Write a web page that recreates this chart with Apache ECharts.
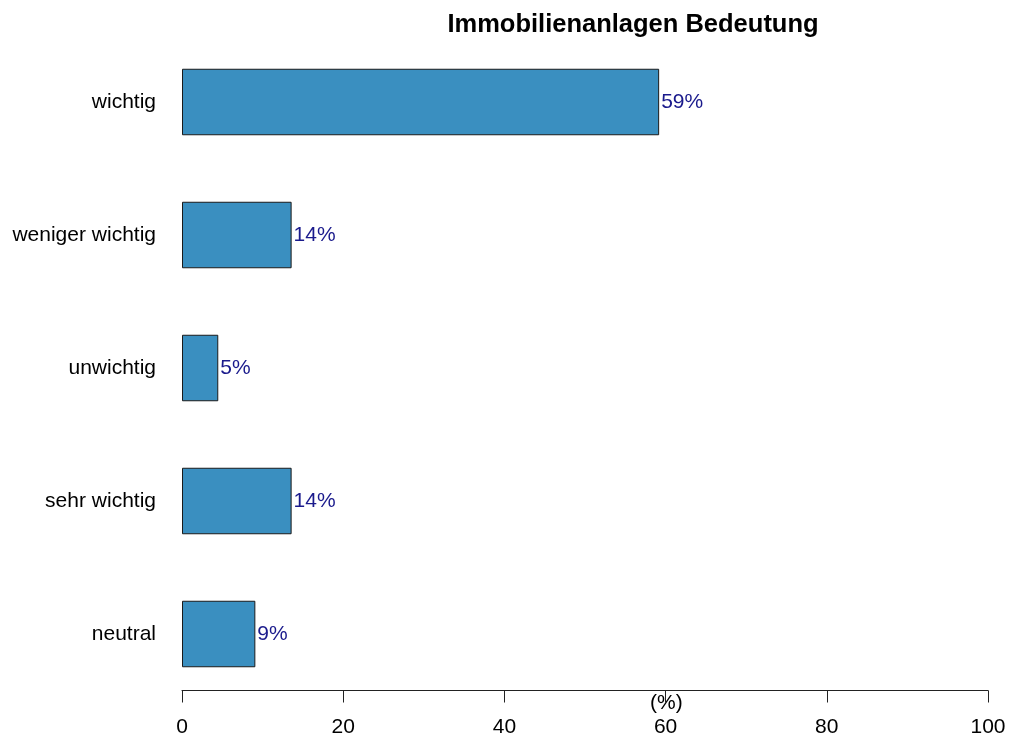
<!DOCTYPE html>
<html>
<head>
<meta charset="utf-8">
<script src="https://cdn.jsdelivr.net/npm/echarts@6/dist/echarts.min.js"></script>
<style>
  html, body { margin: 0; padding: 0; background: #ffffff; }
  #chart { width: 1009px; height: 739px; }
</style>
</head>
<body>
<div id="chart"></div>
<script>
// Categories listed bottom to top (category axis draws the first entry at the bottom)
const categories = ['neutral', 'sehr wichtig', 'unwichtig', 'weniger wichtig', 'wichtig'];
const shares = [9.1, 13.6, 4.5, 13.6, 59.2];
const xTicks = [0, 20, 40, 60, 80, 100];

const FONT = '"Liberation Sans", Arial, Helvetica, sans-serif';

const chart = echarts.init(document.getElementById('chart'));

chart.setOption({
  animation: false,
  backgroundColor: '#ffffff',
  textStyle: { fontFamily: FONT },
  title: {
    text: 'Immobilienanlagen Bedeutung',
    left: 628,
    top: 7,
    textAlign: 'center',
    textStyle: { fontFamily: FONT, fontSize: 25.5, fontWeight: 'bold', color: '#000000' }
  },
  grid: { left: 182, right: 21, top: 35.5, bottom: 38.5, containLabel: false },
  xAxis: {
    type: 'value',
    min: xTicks[0],
    max: xTicks[xTicks.length - 1],
    interval: 20,
    offset: -10,
    axisLine: { show: true, lineStyle: { color: '#222222', width: 1 } },
    axisTick: { show: true, length: 12, inside: false, lineStyle: { color: '#222222' } },
    axisLabel: { fontFamily: FONT, fontSize: 21, color: '#000000', margin: 26 },
    splitLine: { show: false }
  },
  yAxis: {
    type: 'category',
    data: categories,
    axisLine: { show: false },
    axisTick: { show: false },
    axisLabel: { fontFamily: FONT, fontSize: 21, color: '#000000', margin: 26 }
  },
  graphic: [{
    type: 'text',
    left: 650,
    top: 693,
    style: { text: '(%)', font: '21px ' + FONT, fill: '#000000' }
  }],
  series: [{
    type: 'bar',
    data: shares,
    barWidth: '50%',
    itemStyle: { color: '#3A8FC0', borderColor: '#1a1a1a', borderWidth: 1 },
    label: {
      show: true,
      position: 'right',
      distance: 2,
      fontFamily: FONT,
      fontSize: 21,
      color: '#1a1a8c',
      formatter: p => Math.round(p.value) + '%'
    }
  }]
});
</script>
</body>
</html>
